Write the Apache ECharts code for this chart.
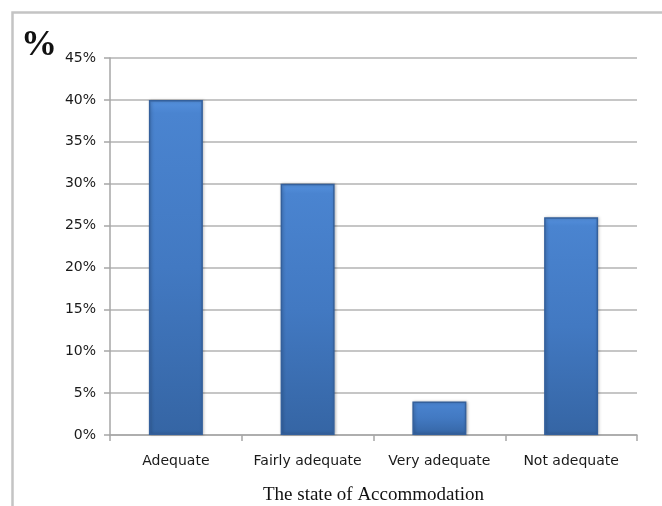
<!DOCTYPE html>
<html>
<head>
<meta charset="utf-8">
<script src="https://cdn.jsdelivr.net/npm/echarts@6/dist/echarts.min.js"></script>
<style>
  html, body { margin: 0; padding: 0; background: #fff; }
  #chart { width: 662px; height: 506px; }
</style>
</head>
<body>
<div id="chart"></div>
<script>
// Accommodation survey: share of respondents per rating
const categories = ['Adequate', 'Fairly adequate', 'Very adequate', 'Not adequate'];
const percentValues = [40, 30, 4, 26];
const yTicks = { min: 0, max: 45, step: 5 };

const chart = echarts.init(document.getElementById('chart'), null, { renderer: 'canvas' });

// bars shade from a lighter top to a deeper base
const barFill = new echarts.graphic.LinearGradient(0, 0, 0, 1, [
  { offset: 0, color: '#5591de' },
  { offset: 0.04, color: '#4a84d0' },
  { offset: 0.5, color: '#4279c2' },
  { offset: 1, color: '#3565a4' }
]);

chart.setOption({
  animation: false,
  graphic: [
    {
      type: 'rect',
      left: 10, top: 10,
      shape: { width: 700, height: 560 },
      style: { fill: 'none', stroke: '#c4c4c4', lineWidth: 2.5 },
      z: -1
    },
    {
      type: 'text',
      left: 21, top: 28,
      style: { text: '%', font: 'bold 36px "Liberation Serif", serif', fill: '#111' }
    }
  ],
  grid: { left: 110, right: 25, top: 58, bottom: 71, containLabel: false, outerBoundsMode: 'none' },
  xAxis: {
    type: 'category',
    data: categories,
    name: 'The state of Accommodation',
    nameLocation: 'middle',
    nameGap: 51,
    nameTextStyle: { fontFamily: '"Liberation Serif", serif', fontSize: 19, color: '#111' },
    axisLine: { lineStyle: { color: '#a6a6a6', width: 1.5 } },
    axisTick: { show: true, length: 6, lineStyle: { color: '#a6a6a6', width: 1.5 } },
    axisLabel: { interval: 0, hideOverlap: false, fontFamily: '"DejaVu Sans", sans-serif', fontSize: 14, color: '#1a1a1a', margin: 19 }
  },
  yAxis: {
    type: 'value',
    min: yTicks.min, max: yTicks.max, interval: yTicks.step,
    axisLine: { show: true, lineStyle: { color: '#a6a6a6', width: 1.5 } },
    axisTick: { show: true, length: 6, lineStyle: { color: '#a6a6a6', width: 1.5 } },
    splitLine: { lineStyle: { color: '#b3b3b3', width: 1.5 } },
    axisLabel: { formatter: '{value}%', fontFamily: '"DejaVu Sans", sans-serif', fontSize: 14, color: '#1a1a1a', margin: 14 }
  },
  series: [{
    type: 'bar',
    data: percentValues,
    barWidth: 54,
    itemStyle: {
      color: barFill,
      borderColor: '#34609c',
      borderWidth: 1.5,
      shadowColor: 'rgba(0,0,0,0.25)',
      shadowBlur: 3,
      shadowOffsetX: 1
    }
  }]
});
</script>
</body>
</html>
